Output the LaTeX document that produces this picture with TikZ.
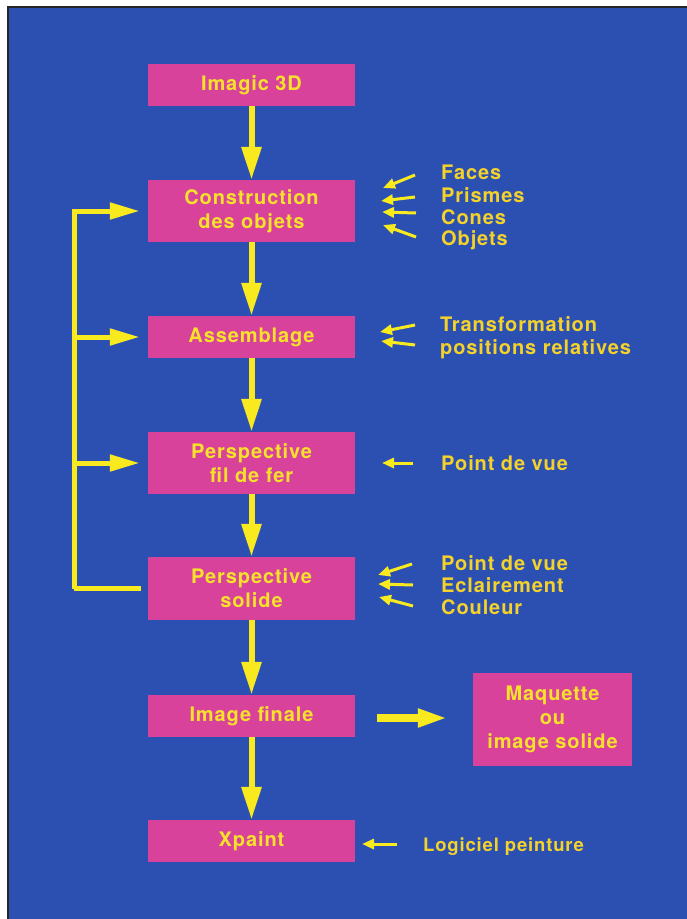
\documentclass[tikz,border=0pt]{standalone}
\usepackage{fontspec}
\setmainfont{TeX Gyre Heros}
\newfontfamily\boxfont{TeX Gyre Heros}[LetterSpace=4.5]
\usetikzlibrary{arrows.meta}
\definecolor{bgblue}{HTML}{2B50B2}
\definecolor{boxpink}{HTML}{D8429A}
\definecolor{yel}{HTML}{F8EA1E}
\definecolor{txtyel}{HTML}{F6E22A}
\definecolor{lblyel}{HTML}{F5D22A}
\tikzset{
  box/.style={fill=boxpink, text=txtyel, inner sep=0pt, align=center,
    font=\boxfont\bfseries\fontsize{20}{24}\selectfont, minimum width=207pt},
  lbl/.style={anchor=base west, text=lblyel, inner sep=0pt,
    font=\boxfont\bfseries\fontsize{20}{24}\selectfont},
  bigarrow/.style={draw=yel, line width=6pt, -{Triangle[length=33pt,width=19pt]}},
  fbline/.style={draw=yel, line width=5pt},
  fbarrow/.style={draw=yel, line width=5pt, -{Triangle[length=30pt,width=16pt]}},
  sidearrow/.style={draw=yel, line width=8pt, -{Triangle[length=30pt,width=17pt]}},
  smallarrow/.style={draw=yel, line width=3pt, -{Triangle[length=12pt,width=10pt]}},
}
\begin{document}
\begin{tikzpicture}[x=1pt,y=-1pt]
\useasboundingbox (0,0) rectangle (687,919);
\fill[white] (0,0) rectangle (687,919);
\fill[bgblue] (8,7) rectangle (687,919);
\draw[black!85, line width=1.2pt] (8,919) -- (8,7) -- (687,7);

% main boxes
\node[box, minimum height=42pt] (imagic) at (251.5,85) {Imagic 3D};
\node[box, minimum height=62pt] (constr) at (251.5,211) {Construction\\des objets};
\node[box, minimum height=42pt] (assem) at (251.5,337) {Assemblage};
\node[box, minimum height=62pt] (fil) at (251.5,463) {Perspective\\fil de fer};
\node[box, minimum height=63pt] (solide) at (251.5,588.5) {Perspective\\solide};
\node[box, minimum height=42pt] (finale) at (251.5,716) {Image finale};
\node[box, minimum height=42pt] (xpaint) at (251.5,841) {Xpaint};
\node[box, minimum width=159pt, minimum height=93pt] (maq) at (552.5,719.5) {Maquette\\ou\\image solide};

% vertical arrows
\draw[bigarrow] (imagic.south) -- (constr.north);
\draw[bigarrow] (constr.south) -- (assem.north);
\draw[bigarrow] (assem.south) -- (fil.north);
\draw[bigarrow] (fil.south) -- (solide.north);
\draw[bigarrow] (solide.south) -- (finale.north);
\draw[bigarrow] (finale.south) -- (xpaint.north);

% side arrow to maquette
\coordinate (sa) at ([xshift=22pt,yshift=-2pt]finale.east);
\coordinate (sb) at ([xshift=-25pt]maq.west);
\draw[sidearrow] (sa) -- (sa -| sb);

% feedback loop
\coordinate (fbc) at (74,588.5);
\draw[fbline] ([xshift=-7pt]solide.west) -- (fbc);
\draw[fbarrow] (fbc) |- ([xshift=-8pt]constr.west);
\draw[fbarrow] (fbc |- assem.west) -- ([xshift=-8pt]assem.west);
\draw[fbarrow] (fbc |- fil.west) -- ([xshift=-8pt]fil.west);

% labels: construction
\node[lbl] (l1) at (441,179) {Faces};
\node[lbl] (l2) at (441,202) {Prismes};
\node[lbl] (l3) at (441,224) {Cones};
\node[lbl] (l4) at (441,245) {Objets};
\draw[smallarrow] (415,175) -- (383,188);
\draw[smallarrow] (415,197) -- (381,201);
\draw[smallarrow] (416,213) -- (382,212);
\draw[smallarrow] (416,237) -- (383,225);

% assemblage
\node[lbl] (l5) at (440,331) {Transformation};
\node[lbl] (l6) at (440,354) {positions relatives};
\draw[smallarrow] (415,325) -- (380,332);
\draw[smallarrow] (415,345) -- (381,341);

% fil de fer
\node[lbl] (l7) at (441,470) {Point de vue};
\draw[smallarrow] (413,463) -- (382,463);

% solide
\node[lbl] (l8) at (441,570) {Point de vue};
\node[lbl] (l9) at (441,592) {Eclairement};
\node[lbl] (l10) at (441,614) {Couleur};
\draw[smallarrow] (412,564) -- (378,575);
\draw[smallarrow] (413,585) -- (378,584);
\draw[smallarrow] (413,606) -- (379,597);

% xpaint
\node[lbl, font=\boxfont\bfseries\fontsize{18.5}{22}\selectfont] (l11) at (423,851) {Logiciel peinture};
\draw[smallarrow] (397,844) -- (362,844);
\end{tikzpicture}
\end{document}
